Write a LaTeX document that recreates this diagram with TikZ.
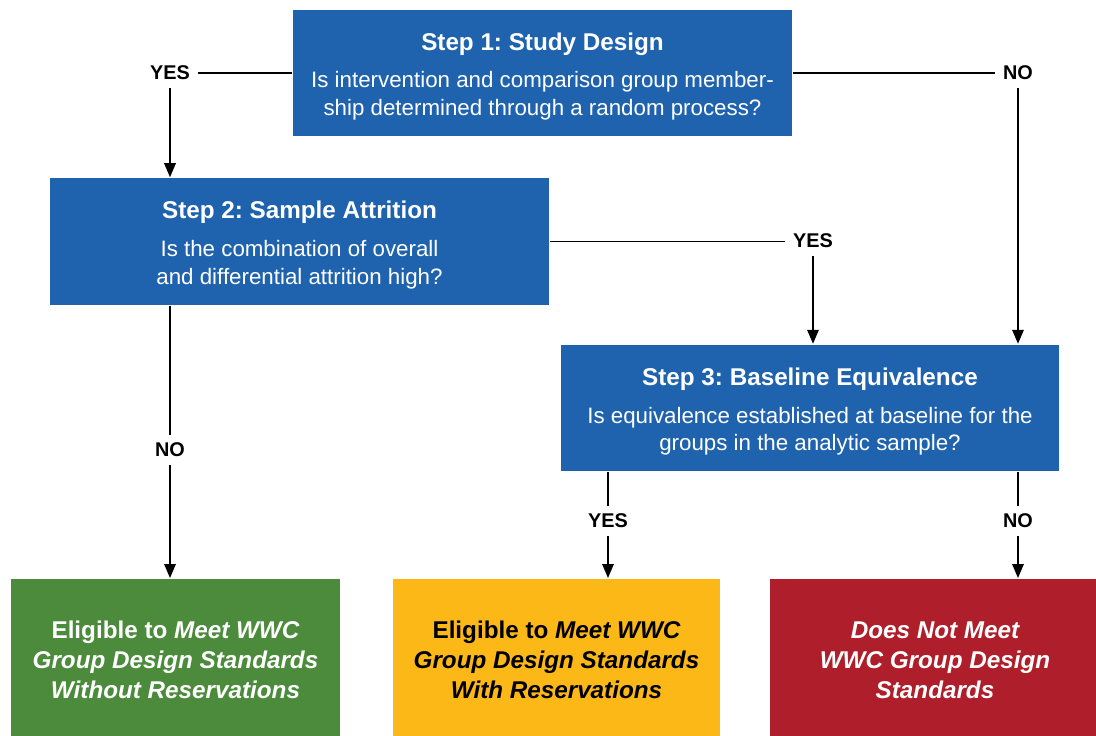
\documentclass[tikz,border=0pt]{standalone}
\usepackage{fontspec}
\setmainfont{Liberation Sans}
\frenchspacing
\usetikzlibrary{arrows.meta}
\definecolor{stepblue}{HTML}{1F63AE}
\definecolor{passgreen}{HTML}{4B8B3B}
\definecolor{resyellow}{HTML}{FBB817}
\definecolor{failred}{HTML}{AF1E2B}
\newcommand\steptitle[1]{{\fontsize{13.8}{16}\selectfont\bfseries\rule{0pt}{14pt}#1}\\[5.7pt]}
\begin{document}
\begin{tikzpicture}[>={Stealth[length=8pt,width=6.5pt,inset=0pt]},x=0.02cm,y=-0.02cm,line width=1.1pt,
        stepbox/.style={fill=stepblue,text=white,minimum width=9.98cm,minimum height=2.53cm,align=center,font=\fontsize{12.7}{15.9}\selectfont},
        endbox/.style={minimum width=6.6cm,minimum height=3.24cm,align=center,font=\fontsize{13.8}{17}\selectfont\bfseries},
        answer/.style={font=\fontsize{11.3}{13}\selectfont\bfseries,inner sep=4pt}]
        \useasboundingbox (0,0) rectangle (1096,735);
        % the three steps
        \node[stepbox] (step1) at (542.5,73) {\steptitle{Step 1: Study Design} Is intervention and comparison group member-\\ship determined through a random process?};
        \node[stepbox] (step2) at (299.5,241.5) {\steptitle{Step 2: Sample Attrition} Is the combination of overall\\and differential attrition high?};
        \node[stepbox] (step3) at (810,408) {\steptitle{Step 3: Baseline Equivalence} Is equivalence established at baseline for the\\groups in the analytic sample?};
        % outcomes
        \node[endbox,fill=passgreen,text=white] (pass) at (175.5,660) {Eligible to \itshape Meet WWC\\\itshape Group Design Standards\\\itshape Without Reservations};
        \node[endbox,fill=resyellow,text=black,minimum width=6.54cm] (passres) at (556.5,660) {Eligible to \itshape Meet WWC\\\itshape Group Design Standards\\\itshape With Reservations};
        \node[endbox,fill=failred,text=white] (fail) at (935,660) {\itshape Does Not Meet\\\itshape WWC Group Design\\\itshape Standards};
        % answers
        \node[answer] (yes1) at (170,73) {YES};
        \node[answer] (no1) at (1018,73) {NO};
        \node[answer] (yes2) at (813,241) {YES};
        \node[answer] (no2) at (170,450) {NO};
        \node[answer] (yes3) at (608,521) {YES};
        \node[answer] (no3) at (1018,521) {NO};
        \draw (step1.west) -- (yes1.east) (step1.east) -- (no1.west) (step2.east) -- (step2.east -| yes2.west);
        \draw[->] (yes1) -- (yes1 |- step2.north);
        \draw[->] (no1) -- (no1 |- step3.north);
        \draw[->] (yes2) -- (yes2 |- step3.north);
        \draw (no2 |- step2.south) -- (no2) (yes3 |- step3.south) -- (yes3) (no3 |- step3.south) -- (no3);
        \draw[->] (no2) -- (no2 |- pass.north);
        \draw[->] (yes3) -- (yes3 |- passres.north);
        \draw[->] (no3) -- (no3 |- fail.north);
\end{tikzpicture}
\end{document}
